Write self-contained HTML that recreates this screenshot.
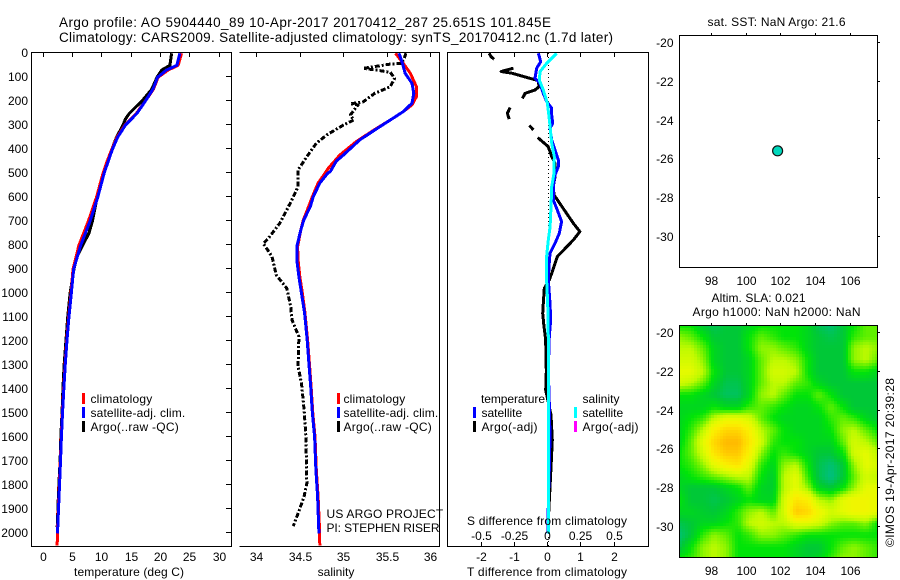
<!DOCTYPE html>
<html>
<head>
<meta charset="utf-8">
<title>Argo profile</title>
<style>
html,body{margin:0;padding:0;background:#fff;}
svg{display:block;}
text{font-family:"Liberation Sans",sans-serif;font-size:12px;fill:#000;}
.t14{font-size:13.5px;}
.frame{fill:none;stroke:#000;stroke-width:1;shape-rendering:crispEdges;}
.tick{stroke:#000;stroke-width:1;shape-rendering:crispEdges;}
.curve{fill:none;stroke-width:3;shape-rendering:crispEdges;stroke-linejoin:round;}
.sw{shape-rendering:crispEdges;}
</style>
</head>
<body>
<svg id="root" width="900" height="580" viewBox="0 0 900 580" xmlns="http://www.w3.org/2000/svg">
  <text class="t14" x="59" y="27" textLength="492" lengthAdjust="spacing">Argo profile: AO 5904440_89 10-Apr-2017 20170412_287 25.651S 101.845E</text>
  <text class="t14" x="59" y="42" textLength="554" lengthAdjust="spacing">Climatology: CARS2009. Satellite-adjusted climatology: synTS_20170412.nc (1.7d later)</text>

  <g id="heat"></g>
  <g id="curves"></g>
  <g id="ticks"></g>

  <path class="frame" d="M31.5,52.5H231.5V546.5H31.5Z"/>
  <path class="frame" d="M239.5,52.5H439.5V546.5H239.5"/>
  <rect class="frame" x="447.5" y="52.5" width="201" height="494"/>
  <rect class="frame" x="679.5" y="35.5" width="198" height="232"/>
  <rect class="frame" x="679.5" y="325.5" width="198" height="232"/>

  <text x="129" y="576" text-anchor="middle" textLength="110" lengthAdjust="spacing">temperature (deg C)</text>
  <text x="336" y="576" text-anchor="middle">salinity</text>
  <text x="547" y="576" text-anchor="middle" textLength="160" lengthAdjust="spacing">T difference from climatology</text>
  <text x="547" y="525" text-anchor="middle" textLength="160" lengthAdjust="spacing">S difference from climatology</text>

  <g>
    <rect class="sw" x="82" y="393" width="3" height="11" fill="#f00"/>
    <rect class="sw" x="82" y="407" width="3" height="11" fill="#00f"/>
    <rect class="sw" x="82" y="421" width="3" height="11" fill="#000"/>
    <text x="90.5" y="403" textLength="61.7" lengthAdjust="spacing">climatology</text>
    <text x="90.5" y="417" textLength="94.7" lengthAdjust="spacing">satellite-adj. clim.</text>
    <text x="90.5" y="431" textLength="88.3" lengthAdjust="spacing">Argo(..raw -QC)</text>
  </g>
  <g>
    <rect class="sw" x="337" y="393" width="3" height="11" fill="#f00"/>
    <rect class="sw" x="337" y="407" width="3" height="11" fill="#00f"/>
    <rect class="sw" x="337" y="421" width="3" height="11" fill="#000"/>
    <text x="343.5" y="403" textLength="61.7" lengthAdjust="spacing">climatology</text>
    <text x="343.5" y="417" textLength="94.7" lengthAdjust="spacing">satellite-adj. clim.</text>
    <text x="343.5" y="431" textLength="88.3" lengthAdjust="spacing">Argo(..raw -QC)</text>
  </g>
  <g>
    <text x="481" y="403" textLength="64" lengthAdjust="spacing">temperature</text>
    <text x="582.5" y="403" textLength="37" lengthAdjust="spacing">salinity</text>
    <rect class="sw" x="473" y="407" width="3" height="11" fill="#00f"/>
    <rect class="sw" x="473" y="421" width="3" height="11" fill="#000"/>
    <rect class="sw" x="574" y="407" width="3" height="11" fill="#0ff"/>
    <rect class="sw" x="574" y="421" width="3" height="11" fill="#f0f"/>
    <text x="481.5" y="417" textLength="40.7" lengthAdjust="spacing">satellite</text>
    <text x="481.5" y="431" textLength="56" lengthAdjust="spacing">Argo(-adj)</text>
    <text x="582.5" y="417" textLength="40.7" lengthAdjust="spacing">satellite</text>
    <text x="582.5" y="431" textLength="56" lengthAdjust="spacing">Argo(-adj)</text>
  </g>

  <text x="326.5" y="518" textLength="116.7" lengthAdjust="spacing">US ARGO PROJECT</text>
  <text x="326.5" y="532" textLength="113" lengthAdjust="spacing">PI: STEPHEN RISER</text>

  <text x="707.5" y="26" textLength="138" lengthAdjust="spacing">sat. SST: NaN Argo: 21.6</text>
  <text x="711.5" y="302" textLength="94" lengthAdjust="spacing">Altim. SLA: 0.021</text>
  <text x="692.5" y="316" textLength="168" lengthAdjust="spacing">Argo h1000: NaN h2000: NaN</text>
  <text transform="translate(894,547) rotate(-90)" textLength="169" lengthAdjust="spacing">©IMOS 19-Apr-2017 20:39:28</text>
</svg>
<script>
// ---------- axis tick data ----------
var depthTicks = [0,100,200,300,400,500,600,700,800,900,1000,1100,1200,1300,1400,1500,1600,1700,1800,1900,2000];
var tempTicks = [0,5,10,15,20,25,30];
var salTicks = [34,34.5,35,35.5,36];
var salTickLabels = ['34','34.5','35','35.5','36'];
var tDiffTicks = [-2,-1,0,1,2];
var sDiffTickLabels = ['-0.5','-0.25','0','0.25','0.5'];
var lonTicks = [98,100,102,104,106];
var latTicks = [-20,-22,-24,-26,-28,-30];

// ---------- temperature profiles ----------
var tempClimDepth = [0,50,70,100,150,200,250,300,350,400,450,500,600,700,800,900,1000,1100,1200,1300,1400,1500,1600,1700,1800,1900,2000,2050];
var tempClimValues = [23.7,23.1,21.4,19.7,18.9,17.5,16.0,14.0,12.7,11.8,11.0,10.3,9.2,7.8,6.2,5.2,4.85,4.45,4.1,3.83,3.6,3.38,3.2,3.04,2.87,2.7,2.53,2.5];
var tempSatDepth = [0,50,70,100,150,200,250,300,350,400,450,500,600,700,800,900,1000,1100,1200,1300,1400,1500,1600,1700,1800,1900,2000];
var tempSatValues = [23.4,22.9,21.1,19.6,18.8,17.5,16.1,14.1,12.8,11.9,11.2,10.5,9.4,8.1,6.5,5.3,4.9,4.5,4.15,3.87,3.63,3.4,3.22,3.06,2.9,2.72,2.55];
var tempArgoDepth = [0,50,70,100,150,200,250,275,300,350,400,500,600,700,750,800,850,900,1000,1100,1200,1300,1400,1500,1600,1700,1800,1900,1975];
var tempArgoValues = [22.0,21.7,20.3,19.5,18.6,16.9,14.8,14.1,13.7,12.6,11.8,10.5,9.3,8.5,7.9,6.85,5.85,5.35,4.7,4.3,3.98,3.68,3.47,3.32,3.12,3.0,2.78,2.62,2.5];

// ---------- salinity profiles ----------
var salClimDepth = [0,42,83,139,181,215,243,278,320,368,424,449,478,500,541,597,640,695,738,806,861,931,1000,1083,1195,1292,1389,1500,1597,1736,1847,1972,2050];
var salClimValues = [35.60,35.69,35.77,35.84,35.84,35.79,35.69,35.54,35.35,35.15,34.96,34.90,34.83,34.79,34.71,34.645,34.60,34.54,34.51,34.475,34.48,34.50,34.53,34.56,34.59,34.61,34.63,34.65,34.675,34.69,34.71,34.725,34.73];
var salSatDepth = [0,42,83,125,167,208,243,278,320,361,424,449,493,500,541,597,640,695,738,806,861,931,1000,1083,1195,1292,1389,1500,1597,1736,1847,2000];
var salSatValues = [35.64,35.68,35.71,35.79,35.81,35.79,35.69,35.54,35.36,35.19,35.0,34.92,34.85,34.82,34.73,34.655,34.62,34.545,34.51,34.465,34.465,34.49,34.52,34.555,34.585,34.605,34.625,34.645,34.67,34.685,34.705,34.72];
var salArgoDepth = [0,21,42,45,53,63,70,79,104,139,167,202,211,215,257,278,299,340,375,431,486,556,625,708,770,792,847,924,979,1056,1111,1181,1306,1375,1486,1597,1792,1847,1917,1970];
var salArgoValues = [35.72,35.70,35.67,35.54,35.40,35.23,35.38,35.54,35.59,35.54,35.36,35.23,35.08,35.17,35.08,35.12,35.0,34.81,34.69,34.58,34.48,34.48,34.39,34.27,34.14,34.08,34.18,34.23,34.35,34.395,34.41,34.49,34.48,34.52,34.55,34.57,34.58,34.55,34.48,34.425];

// ---------- difference profiles (null = gap in Argo record) ----------
var diffSatTDepth = [0,35,62,104,125,167,201,229,257,292,312,361,403,444,472,507,556,611,653,701,750,792,833,889,944,1042,1111,1181,1320,1459,1598,1736,1875,2000];
var diffSatTValues = [-0.26,-0.19,-0.31,-0.36,-0.21,-0.11,-0.01,0.14,0.14,0.17,0.09,0.14,0.24,0.34,0.34,0.24,0.19,0.19,0.31,0.44,0.37,0.24,0.09,0.06,0.04,0.09,0.11,0.07,0.04,0.07,0.09,0.07,0.04,0.03];
var diffSatSDepth = [0,42,76,111,153,208,264,306,375,431,500,556,639,722,778,847,944,1042,1181,1459,1736,2000];
var diffSatSValues = [0.073,-0.003,-0.052,-0.058,-0.028,0.003,0.015,0.023,0.035,0.055,0.053,0.035,0.03,0.023,0.01,-0.003,-0.003,0.005,0.01,0.01,0.01,0.01];
var diffArgoTDepth = [0,14,25,null,62,76,83,114,139,153,167,188,null,226,250,274,null,301,319,null,351,389,431,458,514,556,590,667,708,743,778,847,917,944,979,1042,1084,1139,1181,1236,1327,1403,1507,1611,1750,1970];
var diffArgoTValues = [-1.74,-1.68,-1.59,null,-1.01,-1.38,-1.06,-0.26,-0.24,-0.36,-0.66,-0.74,null,-1.11,-1.19,-1.14,null,-0.53,-0.41,null,-0.28,0.04,0.14,0.24,0.24,0.19,0.21,0.59,0.79,0.99,0.79,0.31,0.14,0.07,-0.08,-0.11,-0.13,-0.09,-0.05,-0.03,-0.02,-0.04,0.12,0.16,0.11,0.03];

// ---------- float location ----------
var floatLon = 101.845;
var floatLat = -25.651;

// ---------- SLA heatmap (colour level at each grid node) ----------
var heatLons = [96.2,96.87,97.54,98.21,98.88,99.55,100.22,100.89,101.56,102.23,102.9,103.57,104.24,104.91,105.58,106.25,106.92,107.59];
var heatLats = [-19.64,-20.24,-20.84,-21.44,-22.05,-22.65,-23.25,-23.85,-24.45,-25.05,-25.65,-26.25,-26.86,-27.46,-28.06,-28.66,-29.26,-29.87,-30.47,-31.07,-31.67];
var heatValues = [
[2,2,1,.6,1,1,1.5,2,2,2,2,1.5,.6,.2,1,2,3,3],
[3.5,3,2,1,1,1,2,3,2.5,2,2,1.5,1,.7,1,2.5,3,3],
[4,4,3,1.5,1,1,2,3.5,3.5,3,2.5,1.5,1,1,1,3.5,4,3.5],
[4.5,4.5,3.5,1.5,1,1,1.5,3,4,4,3.5,2,1,1,1,3.5,4,3],
[5,5,4,2,1,1,1.5,3,4.5,4.5,4,2,1,1,1,2,2,1.5],
[4.5,4,3,1.5,.7,.7,1.5,3,4,4,3,2.5,1.5,1,1,1,1,1],
[2,2,1.5,1,.5,.5,1.5,3.5,4,3,2,2,3,2,1,1,1,1],
[1.5,1.5,1.5,2,1.5,1.5,2.5,3,2.5,2,1.5,1.5,2,3,2,1,1,1],
[1.5,2,2.5,4,5,5,4.5,3,2,1.5,1.5,1.5,1.5,2.5,3,2.5,1.5,1],
[1.5,2.5,4,6,7,7,6,4,3,2,1.5,1.5,1.5,2,3.5,4,3,2],
[1.5,3,5,7,8,8,6.5,4.5,2.5,2,2,1.5,1.5,1.5,3,4.5,4,3],
[2,3,4.5,6.5,7.5,7.5,6,3.5,2,2.5,2,1.5,1,1,2,4.5,5,4],
[2,2.5,3.5,5,6,6.5,5,2.5,1.5,3.5,4,2,.7,.2,1,3.5,5,4.5],
[1.5,2,2.5,3,3.5,4,4,2,1.2,4,5,2.5,.7,0,1,3,4.5,4],
[1.5,1,1,1,1.5,2,3,1.5,1.2,4,5,3.5,1.5,1,2,3.5,5,5],
[2,1,1,.7,1,1.5,2,1.5,1.5,4.5,6.5,6,4,3.5,5,5.5,5.5,5],
[1.5,1.5,1.2,1,1.5,2.5,3.5,4,3,4.5,7.5,7,5.5,4.5,5,5.5,5.5,5],
[.7,1,1.5,1.5,2,2.5,4,4.5,4,4,5,5,4.5,3.5,3,3,3.5,2],
[.2,1,2.5,3.5,3,2,2.5,3.5,3.5,3,2.5,2,2,2,2,2,2,2],
[.7,2,3.5,4,3.5,2,2,2,2,2,1.5,1,1,2,3,3.5,3,2.5],
[2,2.5,3.5,4,3.5,2,2,2,2,2,1.5,1.2,1.5,2.5,3.5,3.5,3,2.5]
];

// ---------- axis functions ----------
var NS = 'http://www.w3.org/2000/svg';
function yDepth(d){ return 53.3 + 0.24 * d; }
function xTemp(t){ return 42.5 + 5.87 * t; }
function xSal(s){ return 256.3 + 87 * (s - 34); }
function xDiffT(v){ return 547 + 33.25 * v; }
function xDiffS(s){ return 547 + 133 * s; }
function xLon(l){ return 710.7 + 17.4 * (l - 98); }
function yLat(l, top){ return top + 7 + 19.4 * (-l - 20); }

function mk(tag, parent, attrs, txt){
  var e = document.createElementNS(NS, tag);
  for (var k in attrs) e.setAttribute(k, attrs[k]);
  if (txt !== undefined) e.textContent = txt;
  parent.appendChild(e);
  return e;
}

function drawCurve(parent, name, color, xs, ys, xf, dash){
  var d = '', pen = false;
  for (var i = 0; i < xs.length; i++){
    if (xs[i] === null || ys[i] === null){ pen = false; continue; }
    d += (pen ? 'L' : 'M') + xf(xs[i]).toFixed(1) + ',' + yDepth(ys[i]).toFixed(1);
    pen = true;
  }
  var el = mk('path', curvesG, {d: d, 'class': 'curve', stroke: color});
  if (dash) el.setAttribute('stroke-dasharray', dash);
  
  
}

var curvesG = document.getElementById('curves');
var ticksG = document.getElementById('ticks');
var heatG = document.getElementById('heat');

// ---------- profile curves ----------
drawCurve(curvesG, 'temperature-argo-line', '#000', tempArgoValues, tempArgoDepth, xTemp);
drawCurve(curvesG, 'temperature-climatology-line', '#f00', tempClimValues, tempClimDepth, xTemp);
drawCurve(curvesG, 'temperature-satellite-line', '#00f', tempSatValues, tempSatDepth, xTemp);
drawCurve(curvesG, 'salinity-argo-line', '#000', salArgoValues, salArgoDepth, xSal, '5 2 2 2');
drawCurve(curvesG, 'salinity-climatology-line', '#f00', salClimValues, salClimDepth, xSal);
drawCurve(curvesG, 'salinity-satellite-line', '#00f', salSatValues, salSatDepth, xSal);

var zeroLine = mk('line', curvesG, {x1: 548.5, x2: 548.5, y1: 53, y2: 546, stroke: '#000', 'stroke-width': 1, 'stroke-dasharray': '1 3', 'shape-rendering': 'crispEdges'});



drawCurve(curvesG, 'difference-t-argo-line', '#000', diffArgoTValues, diffArgoTDepth, xDiffT);
drawCurve(curvesG, 'difference-t-satellite-line', '#00f', diffSatTValues, diffSatTDepth, xDiffT);
drawCurve(curvesG, 'difference-s-satellite-line', '#0ff', diffSatSValues, diffSatSDepth, xDiffS);

// ---------- ticks and tick labels ----------
function tick(x1, y1, x2, y2){
  var t = mk('line', ticksG, {x1: x1, y1: y1, x2: x2, y2: y2, 'class': 'tick'});
  
  
}
function label(x, y, s, anchor){
  var t = mk('text', ticksG, {x: x, y: y, 'text-anchor': anchor}, s);
  
  
}
depthTicks.forEach(function(d){
  var y = Math.round(yDepth(d)) - 0.5;
  tick(226, y, 231, y);
  label(28, y + 4.5, String(d), 'end');
});
tempTicks.forEach(function(t){
  var x = Math.round(xTemp(t)) + 0.5;
  tick(x, 53, x, 57);
  label(x, 561, String(t), 'middle');
});
salTicks.forEach(function(s, i){
  var x = Math.round(xSal(s)) + 0.5;
  tick(x, 53, x, 57);
  label(x, 561, salTickLabels[i], 'middle');
});
tDiffTicks.forEach(function(v, i){
  var x = Math.round(xDiffT(v)) + 0.5;
  tick(x, 53, x, 57);
  tick(x, 542, x, 546);
  label(x, 561, String(v), 'middle');
  label(x, 540, sDiffTickLabels[i], 'middle');
});
[35, 325].forEach(function(top){
  lonTicks.forEach(function(l){
    var x = Math.round(xLon(l)) + 0.5;
    tick(x, top - 2, x, top);
    label(x, top + 250, String(l), 'middle');
  });
  latTicks.forEach(function(l){
    var y = Math.round(yLat(l, top)) + 0.5;
    tick(878, y, 880, y);
    label(673.5, y + 4.5, String(l), 'end');
  });
});

// ---------- float marker ----------
var marker = mk('circle', ticksG, {cx: xLon(floatLon), cy: yLat(floatLat, 35) - 0.8, r: 5, fill: '#00d8bc', stroke: '#111', 'stroke-width': 1.2});



// ---------- heatmap ----------
function heatColor(v){
  var stops = [[0,0,190,130],[1,0,200,55],[2,0,228,8],[3,95,240,0],[4,190,250,0],[5,230,250,0],[6,250,240,0],[7,255,215,0],[8,255,185,0]];
  v = Math.max(0, Math.min(8, v));
  var i = Math.min(7, Math.floor(v)), f = v - i, a = stops[i], b = stops[i + 1];
  return 'rgb(' + Math.round(a[1] + (b[1] - a[1]) * f) + ',' + Math.round(a[2] + (b[2] - a[2]) * f) + ',' + Math.round(a[3] + (b[3] - a[3]) * f) + ')';
}
var SUB = 4;
for (var r = 0; r < heatLats.length - 1; r++){
  for (var c = 0; c < heatLons.length - 1; c++){
    for (var sy = 0; sy < SUB; sy++){
      for (var sx = 0; sx < SUB; sx++){
        var fx = (sx + 0.5) / SUB, fy = (sy + 0.5) / SUB;
        var val = (1 - fy) * ((1 - fx) * heatValues[r][c] + fx * heatValues[r][c + 1]) + fy * ((1 - fx) * heatValues[r + 1][c] + fx * heatValues[r + 1][c + 1]);
        var lonA = heatLons[c] + (heatLons[c + 1] - heatLons[c]) * sx / SUB;
        var lonB = heatLons[c] + (heatLons[c + 1] - heatLons[c]) * (sx + 1) / SUB;
        var latA = heatLats[r] + (heatLats[r + 1] - heatLats[r]) * sy / SUB;
        var latB = heatLats[r] + (heatLats[r + 1] - heatLats[r]) * (sy + 1) / SUB;
        var x0 = Math.max(680, Math.round(xLon(lonA))), x1 = Math.min(878, Math.round(xLon(lonB)));
        var y0 = Math.max(326, Math.round(yLat(latA, 325))), y1 = Math.min(558, Math.round(yLat(latB, 325)));
        if (x1 <= x0 || y1 <= y0) continue;
        var cell = mk('rect', heatG, {x: x0, y: y0, width: x1 - x0, height: y1 - y0, fill: heatColor(val), 'shape-rendering': 'crispEdges'});
        
        
      }
    }
  }
}
</script>
</body>
</html>
